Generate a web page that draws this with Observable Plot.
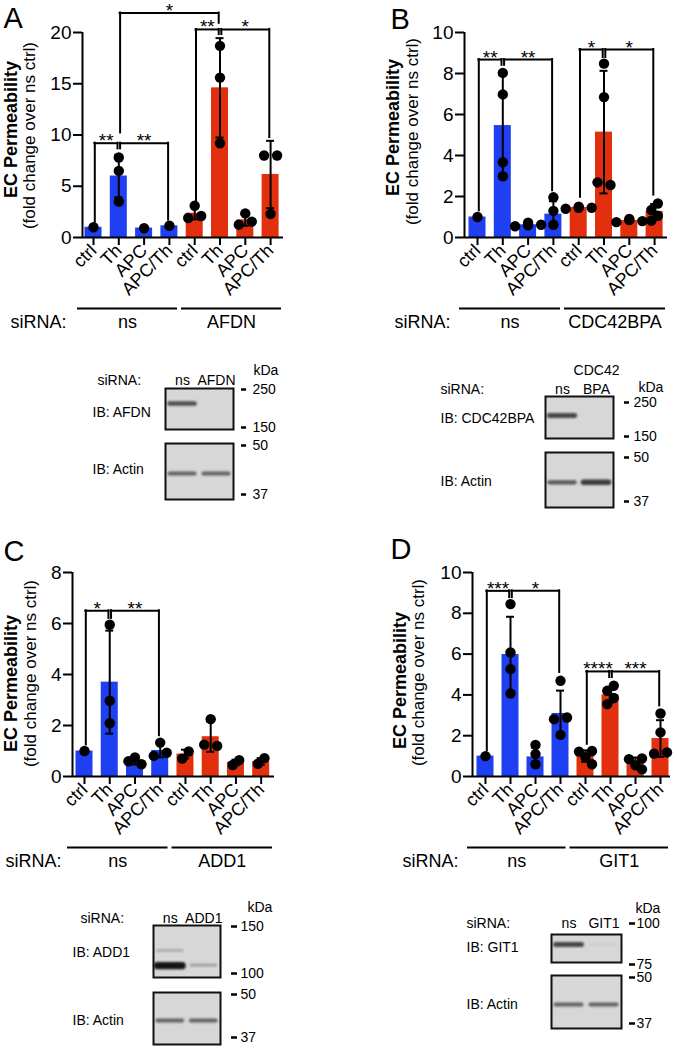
<!DOCTYPE html>
<html><head><meta charset="utf-8">
<script src="https://cdn.jsdelivr.net/npm/d3@7"></script>
<script src="https://cdn.jsdelivr.net/npm/@observablehq/plot@0.6"></script>
<style>
html,body{margin:0;padding:0;background:#fff;}
#fig{position:relative;width:677px;height:1049px;overflow:hidden;background:#fff;}
#fig svg{position:absolute;overflow:visible;}
</style></head><body><div id="fig"></div>
<script>
// ---------------- data ----------------
const conditions = ["ctrl", "Th", "APC", "APC/Th"];
const sirnaA = ["ns", "AFDN"];
const sirnaB = ["ns", "CDC42BPA"];
const sirnaC = ["ns", "ADD1"];
const sirnaD = ["ns", "GIT1"];

// bar means, SDs and individual points (8 bars: 4 conditions x 2 siRNAs)
const meanA = [1.0, 6.0, 0.92, 1.14, 2.37, 14.6, 1.72, 6.15];
const sdA   = [0, 2.07, 0, 0.05, 0.6, 4.85, 0.57, 3.28];
const dotsA = [[1.0], [7.8, 6.5, 3.5], [0.9], [1.15], [3.1, 2.1, 1.9], [18.7, 15.6, 9.2], [2.35, 1.55, 1.25], [8.0, 8.0, 2.3]];
const sigA = [
  {from: 0, to: 1, y: 9.2, y1: 1.5, y2: 8.65, label: "**"},
  {from: 1, to: 3, y: 9.2, y1: 8.65, y2: 1.7, label: "**"},
  {from: 1, to: 5, y: 21.9, y1: 10.2, y2: 20.9, label: "*"},
  {from: 4, to: 5, y: 20.3, y1: 3.6, y2: 19.8, label: "**"},
  {from: 5, to: 7, y: 20.3, y1: 19.8, y2: 9.75, label: "*"}
];

const meanB = [1.0, 5.46, 0.62, 1.14, 1.47, 5.14, 0.83, 1.27];
const sdB   = [0, 2.46, 0.08, 0.63, 0.05, 2.99, 0.07, 0.36];
const dotsB = [[1.0], [8.03, 6.98, 3.67, 2.99], [0.6, 0.55, 0.62, 0.72], [1.96, 1.3, 0.62], [1.45, 1.4, 1.45, 1.5], [8.48, 6.85, 2.56, 2.69], [0.85, 0.75, 0.8, 0.9], [1.66, 1.34, 1.06, 0.82]];
const sigB = [
  {from: 0, to: 1, y: 8.68, y1: 1.3, y2: 8.4, label: "**"},
  {from: 1, to: 3, y: 8.68, y1: 8.4, y2: 2.28, label: "**"},
  {from: 4, to: 5, y: 9.17, y1: 1.96, y2: 8.78, label: "*"},
  {from: 5, to: 7, y: 9.17, y1: 8.78, y2: 2.07, label: "*"}
];

const meanC = [1.0, 3.7, 0.61, 1.02, 0.88, 1.56, 0.55, 0.59];
const sdC   = [0, 2.02, 0.14, 0.27, 0.17, 0.59, 0.11, 0.13];
const dotsC = [[1.0], [5.95, 2.97, 2.09], [0.75, 0.6, 0.48], [1.33, 0.93, 0.81], [0.98, 0.7], [2.25, 1.2, 1.25], [0.64, 0.45], [0.72, 0.5]];
const sigC = [
  {from: 0, to: 1, y: 6.5, y1: 1.24, y2: 6.2, label: "*"},
  {from: 1, to: 3, y: 6.5, y1: 6.2, y2: 1.6, label: "**"}
];

const meanD = [1.0, 5.98, 0.96, 3.09, 1.0, 4.0, 0.7, 1.86];
const sdD   = [0, 1.85, 0.46, 1.12, 0.28, 0.37, 0.23, 0.9];
const dotsD = [[1.0], [8.45, 6.08, 5.26, 4.07], [1.55, 1.1, 0.6], [4.69, 2.89, 2.81, 2.04], [1.25, 1.22, 0.95, 0.6], [4.45, 4.2, 3.85, 3.55], [0.88, 0.85, 0.55, 0.35], [3.09, 2.16, 1.18, 1.12]];
const sigD = [
  {from: 0, to: 1, y: 9.1, y1: 1.26, y2: 8.77, label: "***"},
  {from: 1, to: 3, y: 9.1, y1: 8.77, y2: 5.1, label: "*"},
  {from: 4, to: 5, y: 5.15, y1: 1.58, y2: 4.85, label: "****"},
  {from: 5, to: 7, y: 5.15, y1: 4.85, y2: 3.46, label: "***"}
];

// western blots: lane headers, marker sizes (kDa), bands (lane, apparent kDa, darkness)
const lanesA = ["ns", "AFDN"];
const lanesB = ["ns", "CDC42\nBPA"];
const lanesC = ["ns", "ADD1"];
const lanesD = ["ns", "GIT1"];
const markersA1 = [250, 150], markersA2 = [50, 37];
const markersB1 = [250, 150], markersB2 = [50, 37];
const markersC1 = [150, 100], markersC2 = [50, 37];
const markersD1 = [100, 75],  markersD2 = [50, 37];
const bandsA1 = [{lane: 0, kDa: 207, level: 0.7}];
const bandsA2 = [{lane: 0, kDa: 42.1, level: 0.6}, {lane: 1, kDa: 42.1, level: 0.6}];
const bandsB1 = [{lane: 0, kDa: 206, level: 0.75}];
const bandsB2 = [{lane: 0, kDa: 42.2, level: 0.65}, {lane: 1, kDa: 42.2, level: 0.8}];
const bandsC1 = [{lane: 0, kDa: 122, level: 0.25}, {lane: 0, kDa: 107, level: 1.0}, {lane: 1, kDa: 107.5, level: 0.3}];
const bandsC2 = [{lane: 0, kDa: 41.7, level: 0.6}, {lane: 1, kDa: 41.7, level: 0.6}];
const bandsD1 = [{lane: 0, kDa: 86.3, level: 0.75}, {lane: 1, kDa: 86.3, level: 0.06}];
const bandsD2 = [{lane: 0, kDa: 41.9, level: 0.6}, {lane: 1, kDa: 41.9, level: 0.6}];

// ---------------- drawing ----------------
const BLUE = "#1f3ff2", RED = "#e2300e";
const FONT = '"Liberation Sans", Arial, Helvetica, sans-serif';
const fig = document.getElementById("fig");
function place(svg, left, top) {
  svg.style.left = left + "px";
  svg.style.top = top + "px";
  fig.appendChild(svg);
}

function barChart(c) {
  const mL = c.axisX - c.L, mR = c.L + c.W - c.R, mT = c.yTop - c.T, mB = c.T + c.H - c.yZero;
  const xlo = (c.axisX - c.c0) / c.s, xhi = (c.R - c.c0) / c.s;
  const ppu = (c.yZero - c.yTop) / c.ymax;
  const hw = 8.5 / c.s, capw = 4 / c.s, eps = 1.3 / c.s;
  const rows = c.mean.map((m, i) => ({i, m, sd: c.sd[i]}));
  const err = rows.filter(r => r.sd > 0);
  // dodge overlapping points (pixel based), then re-centre each cluster
  const dotRows = [];
  const step = 6.5, minDist = 7.5;
  c.dots.forEach((vals, i) => {
    const placed = [];
    for (const v of vals) {
      const py = v * ppu;
      let off = 0;
      for (const k of [0, -1, 1, -2, 2, -3, 3]) {
        const ox = k * step;
        if (placed.every(p => Math.hypot(p.ox - ox, p.py - py) >= minDist)) { off = ox; break; }
      }
      placed.push({ox: off, py, v});
    }
    const sorted = placed.slice().sort((a, b) => b.py - a.py);
    let cluster = [];
    const flush = () => {
      if (!cluster.length) return;
      const lo = d3.min(cluster, p => p.ox), hi = d3.max(cluster, p => p.ox), sh = (lo + hi) / 2;
      cluster.forEach(p => p.ox -= sh);
      cluster = [];
    };
    sorted.forEach((p, j) => {
      if (j > 0 && sorted[j - 1].py - p.py >= minDist) flush();
      cluster.push(p);
    });
    flush();
    placed.forEach(p => dotRows.push({x: i + p.ox / c.s, y: p.v}));
  });
  const gStart = xlo - 5 / c.s, gEnd = xhi - 2 / c.s, gMid = (gStart + gEnd) / 2, gGap = 2 / c.s;
  const groups = [
    {x1: gStart, x2: gMid - gGap, label: c.groups[0]},
    {x1: gMid + gGap, x2: gEnd, label: c.groups[1]}
  ];
  const px2x = p => (p - c.c0) / c.s;
  const px2y = p => (c.yZero - p) / ppu;
  const svg = Plot.plot({
    width: c.W, height: c.H,
    marginLeft: mL, marginRight: mR, marginTop: mT, marginBottom: mB,
    x: {domain: [xlo, xhi]},
    y: {domain: [0, c.ymax]},
    style: {fontFamily: FONT, fontSize: "18px", color: "black", background: "none", overflow: "visible"},
    marks: [
      Plot.rect(rows, {x1: d => d.i - hw, x2: d => d.i + hw, y1: () => 0, y2: "m", fill: d => d.i < 4 ? BLUE : RED}),
      Plot.ruleX(err, {x: "i", y1: d => d.m - d.sd, y2: d => d.m + d.sd, strokeWidth: 2}),
      Plot.ruleY(err, {y: d => d.m + d.sd, x1: d => d.i - capw, x2: d => d.i + capw, strokeWidth: 2}),
      Plot.ruleY(err, {y: d => d.m - d.sd, x1: d => d.i - capw, x2: d => d.i + capw, strokeWidth: 2}),
      Plot.dot(dotRows, {x: "x", y: "y", r: 5.2, fill: "black", stroke: "none"}),
      Plot.ruleY([0], {strokeWidth: 2}),
      Plot.ruleX([xlo], {strokeWidth: 2}),
      Plot.axisY({ticks: c.yticks, tickSize: 9, tickPadding: 2, fontSize: 19, strokeWidth: 2, label: null}),
      Plot.axisX({ticks: d3.range(8), tickFormat: i => conditions[i % 4], tickRotate: -45, tickSize: 8, tickPadding: 2, fontSize: 18, strokeWidth: 2, label: null}),
      // significance brackets
      Plot.ruleY(c.sig, {y: "y", x1: d => d.from + eps, x2: d => d.to - eps, strokeWidth: 2, strokeLinecap: "square"}),
      Plot.ruleX(c.sig, {x: d => d.from + eps, y1: "y1", y2: "y", strokeWidth: 2, strokeLinecap: "square"}),
      Plot.ruleX(c.sig, {x: d => d.to - eps, y1: "y2", y2: "y", strokeWidth: 2, strokeLinecap: "square"}),
      Plot.text(c.sig, {x: d => (d.from + d.to) / 2, y: "y", text: "label", lineAnchor: "bottom", dy: 4, fontSize: 19}),
      // siRNA group lines and labels
      Plot.ruleY(groups, {y: () => 0, x1: "x1", x2: "x2", dy: 71, strokeWidth: 2}),
      Plot.text(groups, {x: d => (d.x1 + d.x2) / 2, y: () => 0, text: "label", dy: 85, lineAnchor: "middle", fontSize: 18}),
      Plot.text(["siRNA:"], {frameAnchor: "bottom-left", textAnchor: "start", lineAnchor: "middle", dx: c.siX - c.axisX, dy: 85, fontSize: 18}),
      // y axis title (two lines, rotated)
      Plot.text(["EC Permeability"], {x: () => px2x(c.bold[0]), y: () => px2y(c.bold[1]), rotate: -90, textAnchor: "middle", lineAnchor: "middle", fontWeight: "bold", fontSize: 18}),
      Plot.text(["(fold change over ns ctrl)"], {x: () => px2x(c.norm[0]), y: () => px2y(c.norm[1]), rotate: -90, textAnchor: "middle", lineAnchor: "middle", fontSize: 17}),
      // panel letter
      Plot.text([c.letter], {frameAnchor: "top-left", textAnchor: "start", lineAnchor: "top", dx: c.letterX - c.axisX, dy: c.letterY - c.yTop, fontSize: 29})
    ]
  });
  place(svg, c.L, c.T);
}

function blotBox(b) {
  const svgTop = b.boxTop - 45, svgBottom = b.boxBot + 16;
  const mL = 110, mR = 62;
  const svg = Plot.plot({
    width: mL + b.w + mR, height: svgBottom - svgTop,
    marginLeft: mL, marginRight: mR, marginTop: b.hiPx - svgTop, marginBottom: svgBottom - b.loPx,
    x: {domain: [0, 2], axis: null},
    y: {type: "log", domain: [b.markers[1], b.markers[0]]},
    style: {fontFamily: FONT, fontSize: "14px", color: "black", background: "none", overflow: "visible"},
    marks: [
      Plot.frame({fill: "#d7d7d7", stroke: "none", insetTop: b.boxTop - b.hiPx, insetBottom: b.loPx - b.boxBot}),
      Plot.ruleY(b.bands, {
        y: "kDa", x1: d => d.lane + 0.13, x2: d => d.lane + 0.87,
        stroke: d => d3.interpolateRgb("#d7d7d7", "#151515")(d.level),
        strokeWidth: d => 2.2 + 5 * d.level * d.level, strokeLinecap: "round"
      }),
      Plot.frame({stroke: "#111", strokeWidth: 2, insetTop: b.boxTop - b.hiPx, insetBottom: b.loPx - b.boxBot}),
      Plot.axisY({anchor: "right", ticks: b.markers, tickFormat: d => String(d), tickSize: b.tick[1], dx: b.tick[0], tickPadding: b.tick[2], fontSize: 14, strokeWidth: 2.5, label: null}),
      Plot.text([b.ib], {frameAnchor: "top-left", textAnchor: "start", lineAnchor: "middle", dx: b.ibX - b.left, dy: b.ibY - b.hiPx, fontSize: 14}),
      ...(b.header ? [
        Plot.text(b.header, {x: (d, i) => i + 0.5, frameAnchor: "top", text: d => d, lineAnchor: "bottom", lineHeight: 1.35, dy: b.headerBase - b.hiPx, fontSize: 14}),
        Plot.text(["siRNA:"], {frameAnchor: "top-left", textAnchor: "start", lineAnchor: "bottom", dx: b.siX - b.left, dy: b.headerBase - b.hiPx, fontSize: 14}),
        Plot.text(["kDa"], {frameAnchor: "top-right", textAnchor: "start", lineAnchor: "bottom", dx: b.kda[0] - (b.left + b.w), dy: b.kda[1] - b.hiPx, fontSize: 14})
      ] : [])
    ]
  });
  svg.querySelectorAll('g[aria-label="rule"]').forEach(g => g.style.filter = "blur(0.8px)");
  place(svg, b.left - mL, svgTop);
}

barChart({L: 0, T: 0, W: 338, H: 340, axisX: 82, c0: 93, s: 25.3, R: 283, yTop: 32, yZero: 237, ymax: 20, yticks: [0, 5, 10, 15, 20],
  mean: meanA, sd: sdA, dots: dotsA, sig: sigA, groups: sirnaA, letter: "A", letterX: 3, letterY: 7, bold: [11, 129], norm: [29, 135], siX: 10});
barChart({L: 338, T: 0, W: 339, H: 340, axisX: 464, c0: 477, s: 25.3, R: 667, yTop: 32, yZero: 237, ymax: 10, yticks: [0, 2, 4, 6, 8, 10],
  mean: meanB, sd: sdB, dots: dotsB, sig: sigB, groups: sirnaB, letter: "B", letterX: 390, letterY: 8, bold: [393, 127], norm: [412, 131], siX: 394});
barChart({L: 0, T: 520, W: 338, H: 350, axisX: 72, c0: 84, s: 25.24, R: 274, yTop: 572, yZero: 776, ymax: 8, yticks: [0, 2, 4, 6, 8],
  mean: meanC, sd: sdC, dots: dotsC, sig: sigC, groups: sirnaC, letter: "C", letterX: 3, letterY: 540, bold: [11, 683], norm: [30, 673], siX: 5});
barChart({L: 338, T: 520, W: 339, H: 350, axisX: 472, c0: 485, s: 25.0, R: 670, yTop: 572, yZero: 776, ymax: 10, yticks: [0, 2, 4, 6, 8, 10],
  mean: meanD, sd: sdD, dots: dotsD, sig: sigD, groups: sirnaD, letter: "D", letterX: 390, letterY: 538, bold: [400, 680], norm: [418, 672], siX: 402});

blotBox({left: 165, w: 68, boxTop: 388, boxBot: 429, markers: markersA1, hiPx: 389, loPx: 427, bands: bandsA1, ib: "IB: AFDN", ibX: 92, ibY: 412,
  header: lanesA, headerBase: 384, siX: 97, kda: [253, 374], tick: [7, 5, 7]});
blotBox({left: 165, w: 68, boxTop: 443, boxBot: 499, markers: markersA2, hiPx: 445, loPx: 494, bands: bandsA2, ib: "IB: Actin", ibX: 92, ibY: 469, tick: [7, 5, 7]});
blotBox({left: 545, w: 68, boxTop: 396, boxBot: 438, markers: markersB1, hiPx: 402, loPx: 436, bands: bandsB1, ib: "IB: CDC42BPA", ibX: 440, ibY: 418,
  header: lanesB, headerBase: 393, siX: 440, kda: [638, 391], tick: [10, 5, 5]});
blotBox({left: 545, w: 68, boxTop: 452, boxBot: 507, markers: markersB2, hiPx: 457, loPx: 501, bands: bandsB2, ib: "IB: Actin", ibX: 440, ibY: 481, tick: [10, 5, 5]});
blotBox({left: 153, w: 67, boxTop: 925, boxBot: 977, markers: markersC1, hiPx: 926, loPx: 973, bands: bandsC1, ib: "IB: ADD1", ibX: 72, ibY: 952,
  header: lanesC, headerBase: 922, siX: 80, kda: [247, 911], tick: [10, 6, 4]});
blotBox({left: 153, w: 67, boxTop: 992, boxBot: 1044, markers: markersC2, hiPx: 994, loPx: 1037, bands: bandsC2, ib: "IB: Actin", ibX: 72, ibY: 1020, tick: [10, 6, 4]});
blotBox({left: 551, w: 70, boxTop: 934, boxBot: 962, markers: markersD1, hiPx: 923, loPx: 964, bands: bandsD1, ib: "IB: GIT1", ibX: 466, ibY: 947,
  header: lanesD, headerBase: 927, siX: 466, kda: [635, 912], tick: [7, 6, 2]});
blotBox({left: 551, w: 70, boxTop: 975, boxBot: 1028, markers: markersD2, hiPx: 977, loPx: 1023, bands: bandsD2, ib: "IB: Actin", ibX: 466, ibY: 1004, tick: [7, 6, 2]});
</script>
</body></html>
